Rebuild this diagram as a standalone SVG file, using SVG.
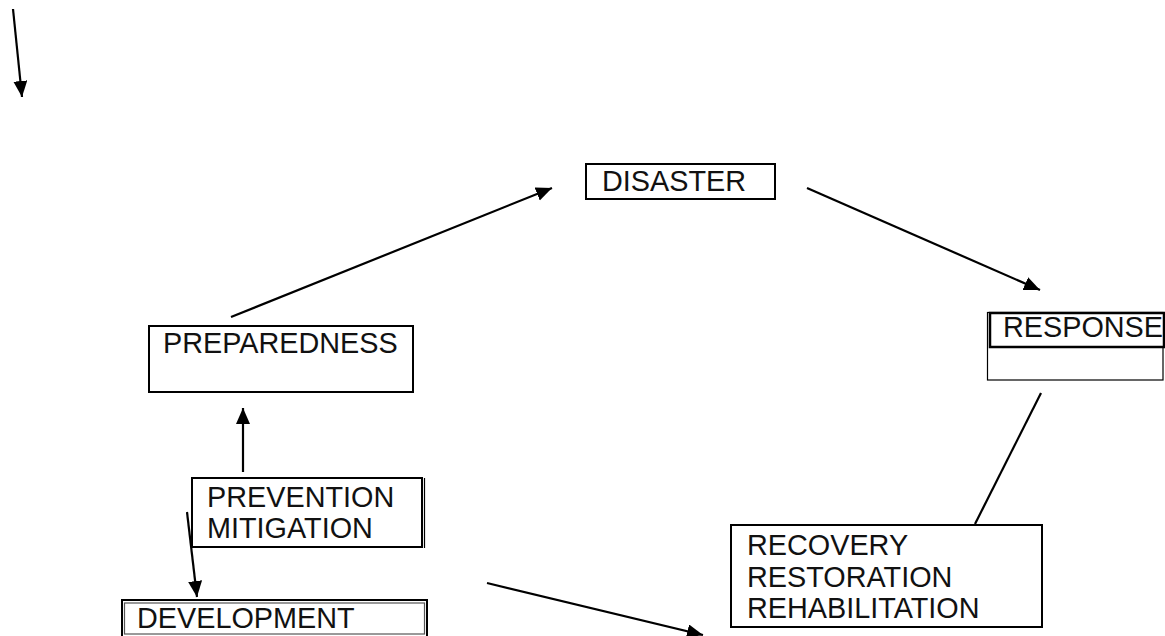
<svg xmlns="http://www.w3.org/2000/svg" width="1165" height="636" viewBox="0 0 1165 636">
  <style>
    .box { fill: #fff; stroke: #000; stroke-width: 2; }
    .thin { fill: none; stroke: #000; stroke-width: 1.2; }
    .lbl { font-family: "Liberation Sans", Arial, sans-serif; font-size: 28.8px; fill: #111; }
    .edge { stroke: #000; stroke-width: 2.2; fill: none; }
  </style>
  <defs>
    <marker id="arrow" markerUnits="userSpaceOnUse" markerWidth="17" markerHeight="15" refX="16" refY="7" orient="auto">
      <path d="M0,0 L16,7 L0,14 z" fill="#000"/>
    </marker>
  </defs>
  <rect width="1165" height="636" fill="#fff"/>

  <g id="connectors">
    <line class="edge" x1="13" y1="9" x2="22" y2="97" marker-end="url(#arrow)"/>
    <line class="edge" x1="231" y1="317" x2="552" y2="188" marker-end="url(#arrow)"/>
    <line class="edge" x1="807" y1="188" x2="1040" y2="290" marker-end="url(#arrow)"/>
    <line class="edge" x1="1041" y1="393" x2="975" y2="524"/>
    <line class="edge" x1="243" y1="472" x2="243" y2="408" marker-end="url(#arrow)"/>
    <line class="edge" x1="187" y1="512" x2="197" y2="597" marker-end="url(#arrow)"/>
    <line class="edge" x1="487" y1="583" x2="703" y2="635" marker-end="url(#arrow)"/>
  </g>

  <g id="disaster">
    <rect class="box" x="586" y="164" width="189" height="35"/>
    <text class="lbl" x="602" y="191">DISASTER</text>
  </g>

  <g id="preparedness">
    <rect class="box" x="149" y="326" width="264" height="66"/>
    <text class="lbl" x="163" y="353">PREPAREDNESS</text>
  </g>

  <g id="response">
    <rect class="thin" x="987.5" y="312.5" width="175.5" height="67.5"/>
    <rect class="box" x="990" y="313" width="174" height="34" style="stroke-width:2.5"/>
    <text class="lbl" x="1003" y="337">RESPONSE</text>
  </g>

  <g id="recovery">
    <rect class="box" x="731" y="525" width="311" height="102"/>
    <text class="lbl" x="747" y="555">RECOVERY</text>
    <text class="lbl" x="747" y="587">RESTORATION</text>
    <text class="lbl" x="747" y="618">REHABILITATION</text>
  </g>

  <g id="prevention">
    <rect class="box" x="192" y="478" width="230" height="69"/>
    <line class="thin" x1="424.5" y1="478" x2="424.5" y2="548"/>
    <text class="lbl" x="207" y="507">PREVENTION</text>
    <text class="lbl" x="207" y="538">MITIGATION</text>
  </g>

  <g id="development">
    <rect class="box" x="122" y="600" width="305" height="40"/>
    <rect class="thin" x="124.5" y="603" width="300" height="31" style="stroke:#555"/>
    <text class="lbl" x="137" y="628">DEVELOPMENT</text>
  </g>
</svg>
